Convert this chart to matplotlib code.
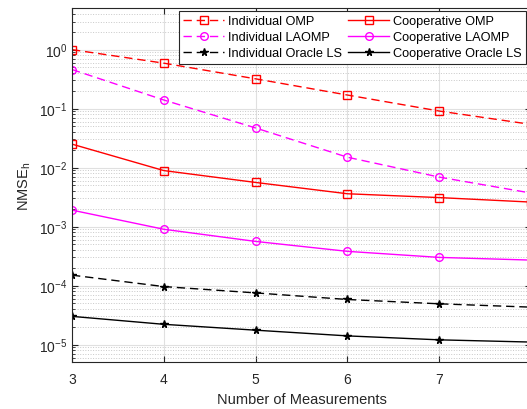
import matplotlib
matplotlib.use('Agg')
from matplotlib import pyplot as plt
import numpy as np

measurements = [3, 4, 5, 6, 7, 8]

ind_omp = [1.0, 0.59, 0.32, 0.17, 0.091, 0.054]
ind_laomp = [0.46, 0.14, 0.047, 0.015, 0.0069, 0.0037]
ind_oracle = [1.5e-4, 9.6e-5, 7.5e-5, 5.8e-5, 4.9e-5, 4.3e-5]
coop_omp = [0.025, 0.0089, 0.0056, 0.0036, 0.0031, 0.0026]
coop_laomp = [0.0019, 0.00090, 0.00056, 0.00038, 0.00030, 0.00027]
coop_oracle = [3.0e-5, 2.2e-5, 1.75e-5, 1.4e-5, 1.2e-5, 1.1e-5]

plt.rcParams['font.family'] = ['Liberation Sans', 'DejaVu Sans']

fig = plt.figure(figsize=(5.27, 4.10), dpi=100)
ax = fig.add_axes([0.1366, 0.114, 0.871, 0.863])

ms = 5.5
lw = 1.0
dash = (6, 3.5)
ax.plot(measurements, ind_omp, '--s', color='red', mfc='none', ms=ms, lw=lw, dashes=dash, label='Individual OMP')
ax.plot(measurements, ind_laomp, '--o', color='magenta', mfc='none', ms=ms, lw=lw, dashes=dash, label='Individual LAOMP')
ax.plot(measurements, ind_oracle, '--*', color='black', ms=ms, lw=lw, dashes=dash, label='Individual Oracle LS')
ax.plot(measurements, coop_omp, '-s', color='red', mfc='none', ms=ms, lw=lw, label='Cooperative OMP')
ax.plot(measurements, coop_laomp, '-o', color='magenta', mfc='none', ms=ms, lw=lw, label='Cooperative LAOMP')
ax.plot(measurements, coop_oracle, '-*', color='black', ms=ms, lw=lw, label='Cooperative Oracle LS')

ax.set_yscale('log')
ax.set_xlim(3, 8)
ax.set_ylim(5e-6, 5)
ax.set_xticks(measurements)
ax.set_yticks([1e-5, 1e-4, 1e-3, 1e-2, 1e-1, 1e0])

ax.grid(True, which='major', color='#e0e0e0', lw=0.8)
ax.grid(True, which='minor', axis='y', color='#c8c8c8', ls=':', lw=0.7)
ax.set_axisbelow(True)

ax.tick_params(which='both', direction='in', top=True, right=True, colors='#262626', labelsize=10)
ax.tick_params(which='major', length=4)
ax.tick_params(which='minor', length=2)
ax.tick_params(axis='x', pad=7)
for s in ax.spines.values():
    s.set_color('#262626')
    s.set_linewidth(0.8)

ax.set_xlabel('Number of Measurements', fontsize=10.5, color='#262626', labelpad=4)
ax.set_ylabel('NMSE$_\\mathregular{h}$', fontsize=10.5, color='#262626')

leg = ax.legend(ncol=2, loc='upper right', bbox_to_anchor=(526 / 527, 1 - 12 / 410),
                bbox_transform=fig.transFigure, fontsize=9.2, fancybox=False,
                edgecolor='#262626', framealpha=1, borderpad=0.35, labelspacing=0.3,
                handlelength=3.2, handletextpad=0.3, columnspacing=0.5, borderaxespad=0)
leg.get_frame().set_linewidth(0.8)

fig.savefig('out.png', dpi=100)
plt.close()
